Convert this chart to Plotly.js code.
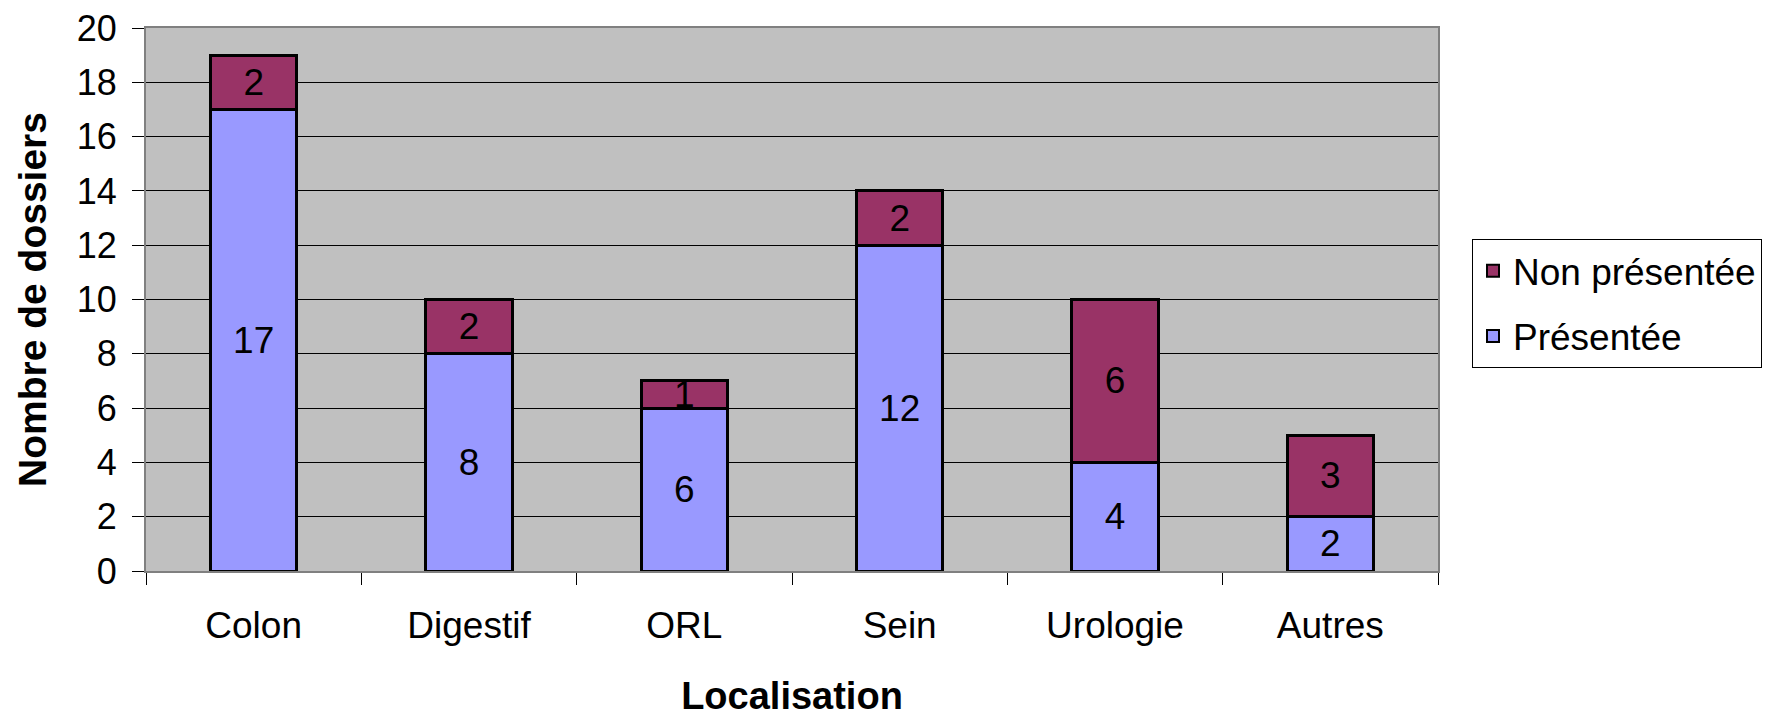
<!DOCTYPE html>
<html>
<head>
<meta charset="utf-8">
<script src="https://cdn.plot.ly/plotly-3.0.1.min.js"></script>
<style>html,body{margin:0;padding:0;background:#fff;}#chart{width:1778px;height:717px;}</style>
</head>
<body>
<div id="chart"></div>
<script>
const categories = ["Colon", "Digestif", "ORL", "Sein", "Urologie", "Autres"];
const presentee = [17, 8, 6, 12, 4, 2];
const nonPresentee = [2, 2, 1, 2, 6, 3];
const yTicks = [0, 2, 4, 6, 8, 10, 12, 14, 16, 18, 20];

const FONT = "'Liberation Sans', Arial, sans-serif";

const common = {
  type: 'bar',
  x: categories,
  textposition: 'inside',
  insidetextanchor: 'middle',
  textangle: 0,
  constraintext: 'none',
  cliponaxis: false,
  hoverinfo: 'skip',
  insidetextfont: {family: FONT, size: 37, color: '#000'}
};

const traces = [
  Object.assign({}, common, {
    name: 'Présentée',
    y: presentee,
    text: presentee.map(String),
    legendgroup: 'a',
    legendrank: 2,
    marker: {color: '#9999FF', line: {color: '#000', width: 3}}
  }),
  Object.assign({}, common, {
    name: 'Non présentée',
    y: nonPresentee,
    text: nonPresentee.map(String),
    legendgroup: 'b',
    legendrank: 1,
    marker: {color: '#993366', line: {color: '#000', width: 3}}
  })
];

const layout = {
  width: 1778,
  height: 717,
  margin: {l: 146, r: 340, t: 28, b: 146, autoexpand: false},
  paper_bgcolor: '#fff',
  plot_bgcolor: '#C0C0C0',
  barmode: 'stack',
  bargap: 0.6,
  font: {family: FONT, color: '#000'},
  showlegend: true,
  legend: {
    x: 1.0263, xanchor: 'left',
    y: 0.611, yanchor: 'top',
    bgcolor: '#fff',
    bordercolor: '#000',
    borderwidth: 1,
    font: {family: FONT, size: 37, color: '#000'},
    traceorder: 'grouped',
    tracegroupgap: 14,
    itemsizing: 'constant'
  },
  xaxis: {
    type: 'category',
    tickfont: {family: FONT, size: 37, color: '#000'},
    ticks: 'outside',
    tickson: 'boundaries',
    ticklen: 12,
    tickcolor: '#000',
    tickwidth: 1,
    ticklabelstandoff: 21,
    showline: true,
    linecolor: '#808080',
    linewidth: 2,
    mirror: true,
    showgrid: false,
    automargin: false,
    title: {text: 'Localisation', font: {family: FONT, size: 38, color: '#000', weight: 'bold'}, standoff: 38}
  },
  yaxis: {
    range: [0, 20],
    tickvals: yTicks,
    ticktext: yTicks.map(String),
    tickfont: {family: FONT, size: 36, color: '#000'},
    ticks: 'outside',
    ticklen: 12,
    tickcolor: '#000',
    tickwidth: 1,
    ticklabelstandoff: 8,
    showline: true,
    linecolor: '#808080',
    linewidth: 2,
    mirror: true,
    showgrid: true,
    gridcolor: '#000',
    gridwidth: 1,
    zeroline: false,
    automargin: false,
    title: {text: 'Nombre de dossiers', font: {family: FONT, size: 39, color: '#000', weight: 'bold'}, standoff: 18}
  }
};

Plotly.newPlot('chart', traces, layout, {displayModeBar: false, staticPlot: true});
</script>
</body>
</html>
